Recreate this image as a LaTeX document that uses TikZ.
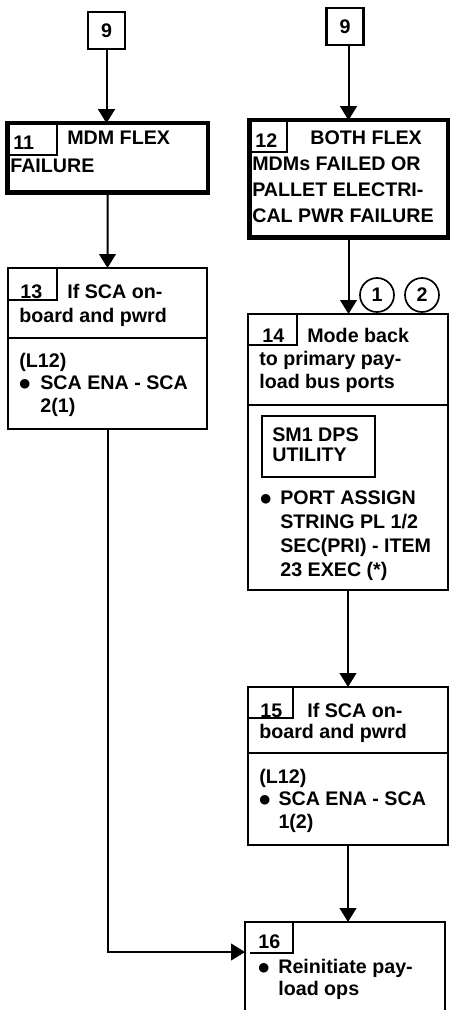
\documentclass[tikz,border=0pt]{standalone}
\usepackage{fontspec}
\setmainfont{Liberation Sans}
\newfontfamily\symfont{DejaVu Sans}
\usetikzlibrary{arrows.meta}

% bullet and hanging indent for the item lines
\newcommand{\itembul}[1][12pt]{\makebox[#1][l]{\raisebox{1.4pt}{\symfont\fontsize{7.5}{7.5}\selectfont ●}}}
\newcommand{\itemind}[1][12pt]{\hspace*{#1}}

\begin{document}
\begin{tikzpicture}[x=0.6pt, y=-0.6pt,
  lead/.style={font=\bfseries\fontsize{11.8}{#1}\selectfont},
  box/.style={draw, line width=1.2pt, anchor=north west, inner sep=0pt, outer sep=0pt},
  alertbox/.style={box, line width=2.7pt},
  refbox/.style={draw, line width=1.5pt, minimum size=22pt, inner sep=0pt, outer sep=0pt, lead=14pt},
  circlemark/.style={circle, draw, line width=1pt, minimum size=20.4pt, inner sep=0pt, lead=14pt},
  tabline/.style={line width=1pt},
  txt/.style={anchor=north west, inner sep=0pt, align=left},
  num/.style={anchor=base west, inner sep=0pt, lead=14pt},
  conn/.style={line width=1.2pt, -{Triangle[length=8.4pt,width=10pt]}}]

  \useasboundingbox (0,0) rectangle (451,1010);
  \clip (0,0) rectangle (451,1010);

  % --- entry points ---
  \node[refbox] (in9a) at (106.5,30.5) {9};
  \node[refbox] (in9b) at (345,26.5) {9};

  % --- failure boxes ---
  \node[alertbox, minimum width=120.3pt, minimum height=41.7pt] (b11) at (7.25,123.25) {};
  \draw[tabline] (57,123) |- (7,155);
  \node[num] (n11) at (13,150) {11};
  \node[txt, lead=16.8pt] (t11) at (10,130.8) {\hspace*{34.2pt}MDM FLEX\\FAILURE};

  \node[alertbox, minimum width=119.1pt, minimum height=70.5pt] (b12) at (249.25,120.25) {};
  \draw[tabline] (287,120) |- (249,152);
  \node[num] (n12) at (255,148) {12};
  \node[txt, lead=15.6pt] (t12) at (252,130.8)
    {\hspace*{34.8pt}BOTH FLEX\\MDMs FAILED OR\\PALLET ELECTRI-\\CAL PWR FAILURE};

  % --- step 13 ---
  \node[box, minimum width=119.4pt, minimum height=96.6pt] (b13) at (8,268) {};
  \draw[tabline] (57,268) |- (8,300);
  \draw[line width=1.2pt] (8,338) -- (207,338);
  \node[num] (n13) at (20,298) {13};
  \node[txt, lead=14.4pt] (t13h) at (19,283.8) {\hspace*{28.8pt}If SCA on-\\board and pwrd};
  \node[txt, lead=13.5pt] (t13b) at (19,352.8)
    {(L12)\\\itembul[12.6pt]SCA ENA - SCA\\\itemind[12.6pt]2(1)};

  % --- step 14 ---
  \node[box, minimum width=120pt, minimum height=165.6pt] (b14) at (248,314) {};
  \draw[tabline] (297,314) |- (248,345);
  \draw[line width=1.2pt] (248,405) -- (448,405);
  \node[num] (n14) at (262,342) {14};
  \node[txt, lead=13.8pt] (t14h) at (259,327.8)
    {\hspace*{28.8pt}Mode back\\to primary pay-\\load bus ports};
  \node[box, minimum width=67.8pt, minimum height=36.6pt] (i14) at (262,416) {};
  \node[txt, lead=12pt] (t14i) at (272,427.8) {SM1 DPS\\UTILITY};
  \node[txt, lead=14.4pt] (t14b) at (260,490.8)
    {\itembul PORT ASSIGN\\\itemind STRING PL 1/2\\\itemind SEC(PRI) - ITEM\\\itemind 23 EXEC (*)};
  \node[circlemark] (c1) at (377,295) {1};
  \node[circlemark] (c2) at (422,295) {2};

  % --- step 15 ---
  \node[box, minimum width=120pt, minimum height=94.8pt] (b15) at (248,687) {};
  \draw[tabline] (293,687) |- (248,718);
  \draw[line width=1.2pt] (248,753) -- (448,753);
  \node[num] (n15) at (260,717) {15};
  \node[txt, lead=12.6pt] (t15h) at (259,702.8) {\hspace*{28.8pt}If SCA on-\\board and pwrd};
  \node[txt, lead=13.5pt] (t15b) at (259,768.8)
    {(L12)\\\itembul[11.5pt]SCA ENA - SCA\\\itemind[11.5pt]1(2)};

  % --- step 16 (runs off the page) ---
  \node[box, minimum width=120pt, minimum height=66pt] (b16) at (245,922) {};
  \draw[tabline] (293,922) |- (250,953);
  \node[num] (n16) at (258,948) {16};
  \node[txt, lead=13.2pt] (t16) at (258,958.8) {\itembul Reinitiate pay-\\\itemind load ops};
  \coordinate (join16) at (245,952);

  % --- connectors ---
  \draw[conn] (in9a.south) -- (in9a.south |- b11.north);
  \draw[conn] (in9b.south -| b12.north) -- (b12.north);
  \draw[conn] (b11.south) -- (b13.north);
  \draw[conn] (b12.south) -- (b12.south |- b14.north);
  \draw[conn] (b14.south) -- (b15.north);
  \draw[conn] (b15.south) -- (b15.south |- b16.north);
  \draw[conn] (b13.south) |- (join16);

\end{tikzpicture}
\end{document}
